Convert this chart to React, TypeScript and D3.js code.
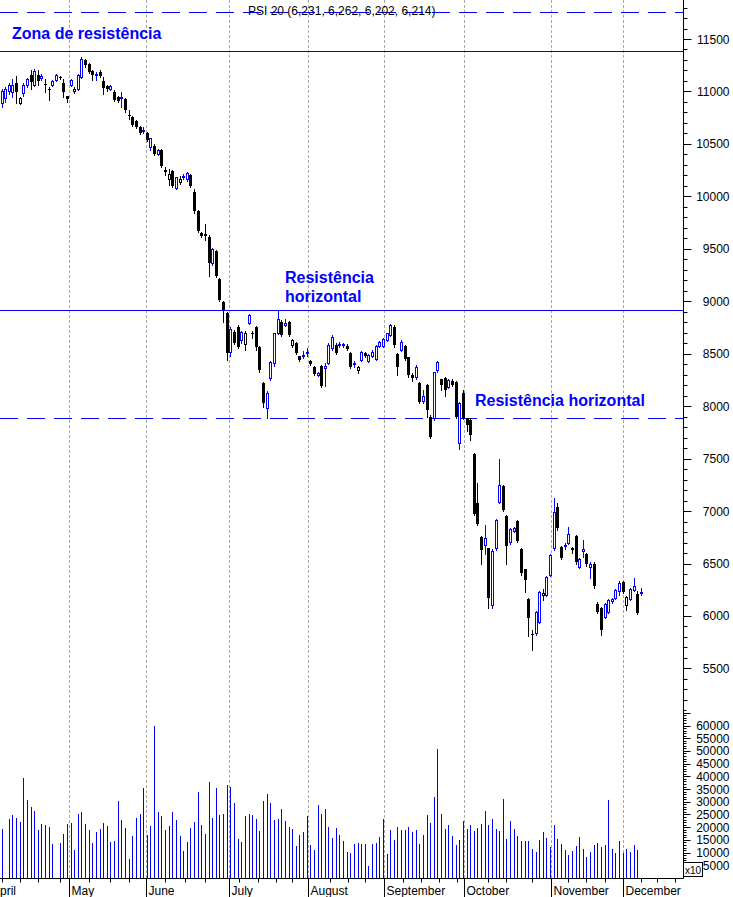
import React from 'react';
import * as d3 from 'd3';

const W = 733;
const H = 897;

// Daily OHLC (PSI 20), one entry per trading slot
const openV = [
  10893, 10937, 11000, 10990, 11080, 10890, 10982, 11060, 11157, 11061,
  11160, 11130, 11070, 11025, 11060, 11110, 11140, 11080, 10957, 11060,
  11000, 11023, 11135, 11300, 11262, 11195, 11160, 11185, 11100, 11052,
  11025, 10998, 10950, 10940, 10928, 10775, 10760, 10720, 10664, 10620,
  10607, 10467, 10480, 10400, 10440, 10250, 10170, 10245, 10080, 10140,
  10185, 10170, 10200, 10044, 9863, 9655, 9640, 9612, 9364, 9482,
  9212, 8996, 8888, 8518, 8710, 8755, 8630, 8590, 8793, 8700,
  8750, 8567, 8220, 7980, 8265, 8411, 8697, 8805, 8775, 8805,
  8580, 8605, 8475, 8480, 8510, 8430, 8376, 8300, 8383, 8360,
  8411, 8551, 8583, 8580, 8585, 8575, 8504, 8400, 8345, 8440,
  8510, 8430, 8480, 8450, 8570, 8570, 8630, 8680, 8758, 8500,
  8540, 8570, 8465, 8300, 8280, 8218, 8050, 8200, 7900, 7884,
  8345, 8255, 8270, 8185, 8240, 8230, 7651, 8125, 7884, 7870,
  7544, 7080, 6755, 6680, 6644, 6100, 6644, 7089, 7239, 6953,
  6705, 6810, 6905, 6640, 6445, 6161, 5830, 5834, 5943, 6200,
  6200, 6390, 6645, 7040, 6660, 6670, 6700, 6650, 6762, 6470,
  6620, 6590, 6470, 6500, 6114, 6073, 5993, 6041, 6140, 6170,
  6240, 6327, 6104, 6160, 6250, 6210, 6231,
];
const highV = [
  11020, 11040, 11080, 11120, 11150, 10950, 11080, 11130, 11205, 11210,
  11200, 11166, 11120, 11045, 11110, 11170, 11150, 11120, 10960, 11120,
  11040, 11170, 11330, 11310, 11270, 11200, 11190, 11200, 11140, 11060,
  11060, 11010, 10960, 10990, 10935, 10823, 10770, 10730, 10670, 10665,
  10615, 10560, 10500, 10450, 10450, 10280, 10260, 10250, 10185, 10190,
  10215, 10230, 10210, 10070, 9870, 9660, 9740, 9630, 9510, 9490,
  9220, 9000, 8900, 8750, 8730, 8770, 8720, 8720, 8880, 8720,
  8760, 8570, 8230, 8140, 8430, 8700, 8917, 8820, 8830, 8810,
  8640, 8610, 8480, 8530, 8550, 8440, 8380, 8330, 8390, 8410,
  8600, 8680, 8600, 8610, 8600, 8590, 8520, 8430, 8380, 8530,
  8520, 8500, 8540, 8580, 8620, 8650, 8700, 8780, 8770, 8510,
  8630, 8580, 8470, 8320, 8390, 8230, 8150, 8210, 7920, 8330,
  8430, 8260, 8280, 8260, 8260, 8240, 8040, 8155, 7890, 7890,
  7550, 7270, 6760, 6870, 6650, 6640, 6925, 7496, 7250, 6960,
  6840, 6850, 6910, 6650, 6450, 6170, 5870, 6050, 6240, 6260,
  6380, 6590, 7125, 7075, 6670, 6700, 6850, 6660, 6770, 6550,
  6724, 6600, 6510, 6510, 6130, 6090, 6120, 6160, 6170, 6260,
  6330, 6330, 6190, 6270, 6362, 6240, 6262,
];
const lowV = [
  10855, 10900, 10980, 10950, 10890, 10880, 10960, 11040, 11023, 11050,
  11060, 11109, 10995, 10920, 11050, 11100, 11120, 10950, 10900, 11050,
  10985, 11010, 11130, 11230, 11180, 11110, 11110, 11140, 10980, 11000,
  11010, 10910, 10900, 10850, 10800, 10740, 10670, 10650, 10590, 10600,
  10530, 10440, 10390, 10390, 10280, 10200, 10110, 10090, 10070, 10120,
  10165, 10150, 10090, 9840, 9660, 9610, 9580, 9240, 9350, 9230,
  9000, 8800, 8440, 8480, 8590, 8550, 8600, 8540, 8780, 8650,
  8540, 8330, 7990, 7887, 8250, 8380, 8690, 8670, 8760, 8670,
  8560, 8500, 8430, 8460, 8480, 8390, 8300, 8290, 8180, 8190,
  8400, 8540, 8500, 8560, 8560, 8540, 8360, 8370, 8320, 8430,
  8470, 8420, 8470, 8440, 8560, 8560, 8620, 8670, 8560, 8300,
  8530, 8440, 8280, 8240, 8260, 8030, 8030, 7900, 7700, 7870,
  8330, 8150, 8100, 8170, 8190, 7890, 7594, 7880, 7760, 7677,
  6960, 6870, 6500, 6590, 6079, 6080, 6630, 7080, 7000, 6495,
  6690, 6800, 6705, 6395, 6230, 5810, 5675, 5820, 5930, 6150,
  6190, 6380, 6630, 6820, 6540, 6640, 6690, 6600, 6500, 6460,
  6565, 6480, 6360, 6270, 6030, 5820, 5980, 6030, 6120, 6160,
  6200, 6220, 6060, 6150, 6240, 6020, 6202,
];
const closeV = [
  11007, 11023, 11060, 11060, 10990, 10940, 11060, 11120, 11093, 11198,
  11100, 11145, 11060, 11018, 11100, 11160, 11125, 10990, 10930, 11110,
  11025, 11157, 11306, 11250, 11188, 11160, 11170, 11150, 11036, 11023,
  11050, 10918, 10912, 10950, 10823, 10766, 10680, 10660, 10600, 10635,
  10537, 10553, 10404, 10440, 10290, 10230, 10215, 10100, 10180, 10165,
  10195, 10220, 10100, 9863, 9673, 9625, 9620, 9364, 9500, 9240,
  9012, 8917, 8507, 8736, 8605, 8565, 8710, 8700, 8869, 8690,
  8567, 8345, 8030, 8130, 8424, 8697, 8831, 8678, 8790, 8678,
  8630, 8510, 8440, 8490, 8520, 8400, 8310, 8320, 8190, 8380,
  8583, 8662, 8510, 8590, 8595, 8545, 8376, 8410, 8376, 8520,
  8480, 8490, 8520, 8570, 8610, 8640, 8695, 8775, 8583, 8376,
  8615, 8450, 8297, 8270, 8376, 8042, 8100, 7963, 7709, 8328,
  8424, 8200, 8154, 8249, 8200, 7897, 8033, 7887, 7820, 7725,
  6972, 6880, 6629, 6740, 6174, 6620, 6915, 7248, 7010, 6667,
  6833, 6840, 6715, 6405, 6343, 5977, 5820, 6040, 6230, 6215,
  6371, 6581, 6988, 6835, 6550, 6680, 6780, 6625, 6517, 6540,
  6640, 6495, 6500, 6285, 6041, 5866, 6114, 6152, 6160, 6247,
  6317, 6231, 6184, 6257, 6290, 6031, 6214,
];
// Volume in thousands
const volumeK = [
  19.4, 0, 23.3, 24.9, 23.7, 22.2, 39.5, 30.8, 28.1, 26.5,
  19.0, 21.4, 21.0, 20.2, 13.5, 0, 13.9, 17.4, 21.4, 21.8,
  11.1, 25.3, 26.1, 21.4, 19.0, 13.9, 18.2, 19.4, 21.8, 20.6,
  14.3, 14.7, 30.4, 22.9, 19.8, 7.6, 16.6, 23.7, 25.3, 35.5,
  17.0, 20.6, 59.9, 26.1, 24.5, 19.0, 20.6, 26.1, 22.9, 16.6,
  10.7, 14.3, 19.8, 22.2, 34.0, 21.0, 17.4, 37.9, 23.7, 35.5,
  24.9, 25.3, 36.7, 35.9, 29.6, 15.5, 14.3, 24.5, 25.3, 24.9,
  23.3, 18.6, 30.4, 33.2, 29.6, 22.9, 23.3, 27.3, 22.5, 20.2,
  19.4, 12.7, 17.0, 18.2, 24.5, 13.1, 11.1, 28.8, 25.3, 27.3,
  20.2, 15.9, 19.8, 17.0, 14.7, 10.4, 10.0, 13.5, 13.9, 13.5,
  13.5, 4.9, 13.5, 13.9, 16.3, 23.3, 9.6, 19.0, 15.1, 20.2,
  19.0, 19.0, 20.2, 18.2, 19.0, 13.5, 17.0, 24.9, 21.8, 32.0,
  50.9, 25.3, 19.4, 21.0, 16.6, 13.1, 15.1, 22.5, 19.4, 21.0,
  18.6, 19.8, 21.4, 26.5, 21.0, 23.3, 19.4, 18.6, 31.2, 15.5,
  22.5, 19.4, 16.6, 14.7, 14.7, 14.7, 11.5, 10.4, 15.1, 18.2,
  15.9, 12.3, 21.0, 15.5, 13.5, 11.1, 9.2, 10.7, 12.7, 16.3,
  11.5, 8.4, 10.4, 13.1, 13.9, 12.3, 13.1, 30.8, 11.5, 10.0,
  14.7, 10.0, 11.5, 10.4, 13.1, 11.1, 0,
];

const monthNames = ['May', 'June', 'July', 'August', 'September', 'October', 'November', 'December'];
const monthStartSlots = [18.6, 39.7, 62.5, 84.5, 105.4, 127.4, 151.2, 171.1];
const weekTickSlots = [0, 5, 10, 16, 24, 30, 35, 45, 50.5, 56, 65.5, 70.5, 75.5, 80, 90.5, 95.5, 100,
  110.5, 115.5, 120.5, 125.5, 134, 139, 146, 156, 161, 166, 176, 180.5, 185.5];
const priceLabels = [5500, 6000, 6500, 7000, 7500, 8000, 8500, 9000, 9500, 10000, 10500, 11000, 11500];
const volumeLabelsK = [5, 10, 15, 20, 25, 30, 35, 40, 45, 50, 55, 60];
const solidLevels = [11386, 8917];
const dashedLevels = [11757, 7887];
const titleText = 'PSI 20 (6,231, 6,262, 6,202, 6,214)';

const FONT = '"Liberation Sans", Arial, sans-serif';
const BLUE = '#0000ff';

export default function App() {
  const n = closeV.length;
  const x = d3.scaleLinear().domain([0, 176]).range([1.5, 640.9]);
  const y = d3.scaleLinear().domain([5500, 11500]).range([668.4, 39]);
  const yv = d3.scaleLinear().domain([0, 60]).range([878, 725.5]);
  const px = (v: number) => Math.round(v) + 0.5;
  const axisX = 683.5;
  const baseY = 878.5;

  const priceTicks = d3.range(5200, 11801, 100);
  const volTicks = d3.range(1, 67, 1);

  return (
    <svg width={W} height={H} style={{ position: 'absolute', left: 0, top: 0, background: '#fff' }}
      fontFamily={FONT}>
      <rect x={0} y={0} width={W} height={H} fill="#fff" />
      {/* month gridlines */}
      {monthStartSlots.map((s, i) => (
        <line key={'g' + i} x1={px(x(s))} x2={px(x(s))} y1={0} y2={baseY} stroke="#a8a8a8"
          strokeDasharray="3,2" />
      ))}
      {/* volume bars */}
      {volumeK.map((v, i) => v > 0 ? (
        <line key={'v' + i} x1={px(x(i))} x2={px(x(i))} y1={baseY} y2={Math.round(yv(v))}
          stroke={BLUE} strokeWidth={1} />
      ) : null)}
      {/* level lines */}
      {solidLevels.map((v, i) => (
        <line key={'s' + i} x1={0} x2={axisX} y1={px(y(v))} y2={px(y(v))} stroke={BLUE} />
      ))}
      {dashedLevels.map((v, i) => (
        <line key={'d' + i} x1={0} x2={axisX} y1={px(y(v))} y2={px(y(v))} stroke={BLUE}
          strokeDasharray="18,9" />
      ))}
      {/* candles */}
      {closeV.map((c, i) => {
        const o = openV[i];
        const prev = i > 0 ? closeV[i - 1] : o;
        const col = c >= prev ? BLUE : '#000';
        const cx = px(x(i));
        const yh = Math.round(y(highV[i]));
        const yl = Math.round(y(lowV[i]));
        const yo = Math.round(y(o));
        const yc = Math.round(y(c));
        const top = Math.min(yo, yc);
        const bot = Math.max(yo, yc);
        const hollow = c >= o;
        return (
          <g key={'c' + i}>
            <line x1={cx} x2={cx} y1={yh} y2={yl + 1} stroke={col} />
            {hollow ? (
              <rect x={cx - 1} y={top + 0.5} width={2} height={Math.max(bot - top, 1)}
                fill="#fff" stroke={col} />
            ) : (
              <rect x={cx - 1.5} y={top} width={3} height={Math.max(bot - top, 1)} fill={col} />
            )}
          </g>
        );
      })}
      {/* title */}
      <text x={248} y={15} fontSize={12} fill="#000">{titleText}</text>
      {/* annotations */}
      <g fill={BLUE} fontWeight="bold" fontSize={16}>
        <text x={12} y={39}>Zona de resistência</text>
        <text x={285} y={283}>Resistência</text>
        <text x={285} y={302}>horizontal</text>
        <text x={475} y={406}>Resistência horizontal</text>
      </g>
      {/* right axis */}
      <line x1={axisX} x2={axisX} y1={0} y2={baseY} stroke="#000" />
      {priceTicks.map((v) => {
        const major = v % 500 === 0;
        const yy = px(y(v));
        return <line key={'pt' + v} x1={axisX} x2={axisX + (major ? 8 : 4)} y1={yy} y2={yy} stroke="#000" />;
      })}
      {priceLabels.map((v) => (
        <text key={'pl' + v} x={729.5} y={y(v) + 4.5} fontSize={12} textAnchor="end" fill="#000">{v}</text>
      ))}
      {volTicks.map((v) => {
        const major = v % 5 === 0;
        const yy = px(yv(v));
        return <line key={'vt' + v} x1={axisX} x2={axisX + (major ? 7 : 3)} y1={yy} y2={yy} stroke="#000" />;
      })}
      {volumeLabelsK.map((v) => (
        <text key={'vl' + v} x={729.5} y={yv(v) + 4.5} fontSize={12} textAnchor="end" fill="#000">{v * 1000}</text>
      ))}
      <rect x={683.5} y={862.5} width={19} height={14} fill="#fff" stroke="#000" />
      <text x={685} y={874} fontSize={10} fill="#000">x10</text>
      {/* bottom axis */}
      <line x1={0} x2={axisX} y1={baseY} y2={baseY} stroke="#000" />
      {weekTickSlots.map((s, i) => (
        <line key={'wt' + i} x1={px(x(s))} x2={px(x(s))} y1={baseY} y2={baseY + 4} stroke="#000" />
      ))}
      {monthStartSlots.map((s, i) => (
        <line key={'mt' + i} x1={px(x(s))} x2={px(x(s))} y1={baseY} y2={H} stroke="#000" />
      ))}
      <text x={-8} y={894.5} fontSize={12} fill="#000">April</text>
      {monthStartSlots.map((s, i) => (
        <text key={'ml' + i} x={px(x(s)) + 2} y={894.5} fontSize={12} fill="#000">{monthNames[i]}</text>
      ))}
    </svg>
  );
}
